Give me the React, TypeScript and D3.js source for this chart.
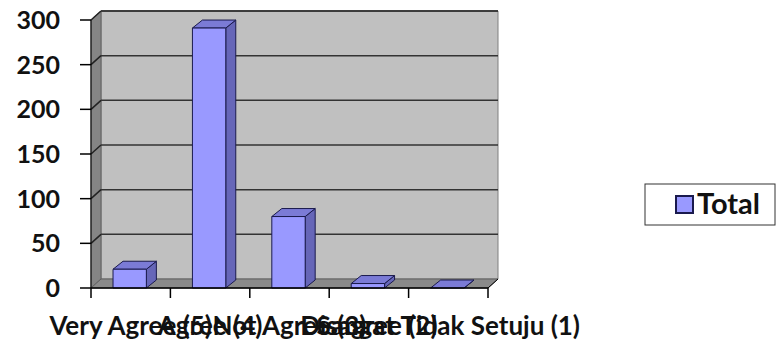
import * as d3 from 'd3';
import React from 'react';

// chart data
const categories = ['Very Agree (5)', 'Agree (4)', 'Not Agree (3)', 'Disagree (2)', 'Sangat Tidak Setuju (1)'];
const totals = [21, 291, 80, 5, 0];
const yTicks = [0, 50, 100, 150, 200, 250, 300];
const seriesName = 'Total';

const FONT = 'Lato, "Open Sans", sans-serif';

export default function App() {
  const width = 776;
  const height = 347;
  // 3D depth offset
  const dx = 10;
  const dy = 9;

  const x = d3.scaleBand<string>().domain(categories).range([91, 488]);
  const y = d3.scaleLinear().domain([0, 300]).range([288, 20]);

  const y0 = y(0);
  const yTop = y(300);
  const xL = x.range()[0];
  const xR = x.range()[1];
  const barW = x.bandwidth() * 0.42;

  const poly = (pts: [number, number][]) => pts.map(p => p.join(',')).join(' ');

  return (
    <svg width={width} height={height} style={{ position: 'absolute', left: 0, top: 0 }}>
      <rect width={width} height={height} fill="#fff" />

      {/* back wall */}
      <polygon points={poly([[xL + dx, yTop - dy], [xR + dx, yTop - dy], [xR + dx, y0 - dy], [xL + dx, y0 - dy]])}
        fill="#c0c0c0" stroke="#808080" strokeWidth={1} />
      <line x1={xL + dx} x2={xR + dx} y1={yTop - dy} y2={yTop - dy} stroke="#404040" strokeWidth={1.5} />
      {/* side wall */}
      <polygon points={poly([[xL, yTop], [xL + dx, yTop - dy], [xL + dx, y0 - dy], [xL, y0]])}
        fill="#858585" stroke="#606060" strokeWidth={1} />
      {/* floor */}
      <polygon points={poly([[xL, y0], [xR, y0], [xR + dx, y0 - dy], [xL + dx, y0 - dy]])}
        fill="#8a8a8a" stroke="#606060" strokeWidth={1} />

      {/* gridlines */}
      {yTicks.filter(t => t > 0).map(t => (
        <g key={t}>
          <line x1={xL} y1={y(t)} x2={xL + dx} y2={y(t) - dy} stroke="#222" strokeWidth={1.5} />
          <line x1={xL + dx} y1={y(t) - dy} x2={xR + dx} y2={y(t) - dy} stroke="#333" strokeWidth={1.5} />
        </g>
      ))}

      {/* bars */}
      {categories.map((c, i) => {
        const cx = (x(c) as number) + x.bandwidth() / 2 - 1;
        const bx = cx - barW / 2;
        const top = y(totals[i]);
        return (
          <g key={c} stroke="#1a1a4d" strokeWidth={1} strokeLinejoin="round">
            <polygon points={poly([[bx + barW, top], [bx + barW + dx, top - dy + 1], [bx + barW + dx, y0 - dy + 1], [bx + barW, y0]])} fill="#6666b8" />
            <polygon points={poly([[bx, top], [bx + dx, top - dy + 1], [bx + barW + dx, top - dy + 1], [bx + barW, top]])} fill="#7b7bd6" />
            <rect x={bx} y={top} width={barW} height={y0 - top} fill="#9999ff" />
          </g>
        );
      })}

      {/* axes */}
      <line x1={xL} y1={yTop} x2={xL} y2={y0} stroke="#000" strokeWidth={1} />
      <line x1={xL} y1={y0} x2={xR} y2={y0} stroke="#000" strokeWidth={1.5} />
      <line x1={xR} y1={y0} x2={xR + dx} y2={y0 - dy} stroke="#000" strokeWidth={1} />
      {yTicks.map(t => (
        <g key={t}>
          <line x1={xL - 11} x2={xL} y1={y(t)} y2={y(t)} stroke="#000" strokeWidth={1.5} />
          <text x={60} y={y(t) + 9} textAnchor="end" fontFamily={FONT} fontWeight="bold" fontSize={25} fill="#111">{t}</text>
        </g>
      ))}
      {[...categories.map(c => x(c) as number), xR].map((p, i) => (
        <line key={i} x1={p} x2={p} y1={y0} y2={y0 + 10} stroke="#000" strokeWidth={1.5} />
      ))}
      {categories.map(c => (
        <text key={c} x={(x(c) as number) + x.bandwidth() / 2} y={335} textAnchor="middle"
          fontFamily={FONT} fontWeight="bold" fontSize={26} fill="#111">{c}</text>
      ))}

      {/* legend */}
      <rect x={645} y={184} width={130} height={41} fill="#fff" stroke="#333" strokeWidth={1} />
      <rect x={676} y={196} width={17} height={17} fill="#9999ff" stroke="#1a1a4d" strokeWidth={2} />
      <text x={697} y={214} fontFamily={FONT} fontWeight="bold" fontSize={29} fill="#111">{seriesName}</text>
    </svg>
  );
}
